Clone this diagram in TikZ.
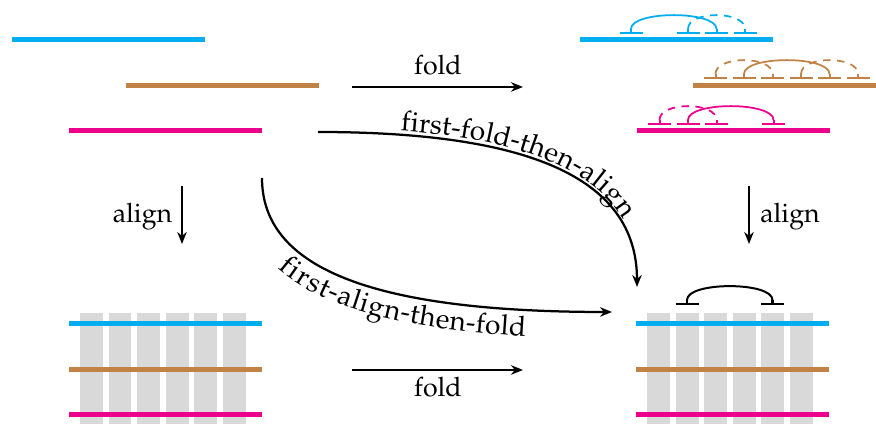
\documentclass[tikz,border=0pt]{standalone}
\usepackage[T1]{fontenc}
\usepackage{mathpazo}
\usetikzlibrary{arrows.meta,decorations.text}

\definecolor{seqcyan}{RGB}{0,174,239}
\definecolor{seqbrown}{RGB}{193,131,69}
\definecolor{seqmagenta}{RGB}{236,0,140}
\definecolor{colgray}{RGB}{217,217,217}

% column centre (local x) of alignment column #1
\newcommand\colx[1]{(22.5+28.5*(#1-1))}
% base-pair tick at column #1 (local coordinates, tick line at y=0)
\newcommand\bptick[2]{\draw[tick,#2] ({\colx{#1}-11.5},0) -- ({\colx{#1}+11.5},0) ({\colx{#1}},0) -- ({\colx{#1}},-4);}
% arc joining columns #1 and #2
\newcommand\bparc[3]{\draw[#3] ({\colx{#1}},-4) .. controls ({\colx{#1}},-22.5) and ({\colx{#2}},-22.5) .. ({\colx{#2}},-4);}

\begin{document}
\begin{tikzpicture}[x=0.4pt,y=-0.4pt,
  font=\fontsize{10.7}{13}\selectfont,
  seq/.style={line width=2pt},
  tick/.style={line width=0.8pt},
  bond/.style={line width=0.7pt},
  pseudo/.style={bond, dash pattern=on 3pt off 2.6pt},
  flow/.style={line width=0.9pt, -{Stealth[length=4.8pt,width=3.8pt]}},
  column/.style={fill=colgray, draw=none},
  lab/.style={anchor=base, inner sep=0pt},
  pathlab/.style={postaction={decorate}, decoration={text along path,
    text format delimiters={|}{|}, text={#1}}},
]
\useasboundingbox (0,0) rectangle (876,424);

% ---------- unaligned sequences (top left)
\draw[seq,seqcyan]    (12,40)  -- ++(193,0);
\draw[seq,seqbrown]   (126,86) -- ++(193,0);
\draw[seq,seqmagenta] (69,131) -- ++(193,0);

% ---------- folded sequences (top right)
\begin{scope}
\clip (0,0) rectangle (876,424);
\draw[seq,seqcyan]    (580,40)  -- ++(193,0);
\draw[seq,seqbrown]   (693,86)  -- ++(193,0);
\draw[seq,seqmagenta] (637,131) -- ++(193,0);
\end{scope}

\begin{scope}[shift={(580,33)}]
  \foreach \k in {2,4,5,6} {\bptick{\k}{seqcyan}}
  \bparc{2}{5}{bond,seqcyan}
  \bparc{4}{6}{pseudo,seqcyan}
\end{scope}
\begin{scope}[shift={(693,78)}]
  \foreach \k in {1,...,6} {\bptick{\k}{seqbrown}}
  \bparc{2}{5}{bond,seqbrown}
  \bparc{1}{3}{pseudo,seqbrown}
  \bparc{4}{6}{pseudo,seqbrown}
\end{scope}
\begin{scope}[shift={(637,124)}]
  \foreach \k in {1,2,3,5} {\bptick{\k}{seqmagenta}}
  \bparc{2}{5}{bond,seqmagenta}
  \bparc{1}{3}{pseudo,seqmagenta}
\end{scope}

% ---------- alignment (bottom left)
\foreach \k in {0,...,5}
  \fill[column] ({80+28.5*\k},313) rectangle ++(23,120);
\draw[seq,seqcyan]    (69,324) -- ++(193,0);
\draw[seq,seqbrown]   (69,370) -- ++(193,0);
\draw[seq,seqmagenta] (69,415) -- ++(193,0);

% ---------- consensus structure (bottom right)
\foreach \k in {0,...,5}
  \fill[column] ({647+28.5*\k},313) rectangle ++(23,120);
\draw[seq,seqcyan]    (636,324) -- ++(193,0);
\draw[seq,seqbrown]   (636,370) -- ++(193,0);
\draw[seq,seqmagenta] (636,415) -- ++(193,0);
\begin{scope}[shift={(636,304)}, tick/.append style={line width=1pt}]
  \bptick{2}{black}
  \bptick{5}{black}
  \bparc{2}{5}{line width=0.8pt,black}
\end{scope}

% ---------- arrow end points
\coordinate (foldT-s) at (352,87);
\coordinate (foldT-e) at (523,87);
\coordinate (foldB-s) at (352,370);
\coordinate (foldB-e) at (523,370);
\coordinate (alignL-s) at (182,186);
\coordinate (alignL-e) at (182,244);
\coordinate (alignR-s) at (749,186);
\coordinate (alignR-e) at (749,244);
\coordinate (ffta-s) at (318,132);
\coordinate (ffta-e) at (637,287);
\coordinate (fatf-s) at (262,178);
\coordinate (fatf-e) at (612,312);

% ---------- arrows and labels
\draw[flow] (foldT-s) -- (foldT-e);
\node[lab] (foldT) at (438,75) {fold};
\draw[flow] (foldB-s) -- (foldB-e);
\node[lab] (foldB) at (438,397) {fold};
\draw[flow] (alignL-s) -- (alignL-e);
\node[lab] (alignL) at (142.5,223) {align};
\draw[flow] (alignR-s) -- (alignR-e);
\node[lab] (alignR) at (790,223) {align};

\draw[flow, pathlab={|\fontsize{11.2}{14}\selectfont|first-fold-then-align},
    decoration={text align={left indent=33pt}, raise=1.5pt}]
  (ffta-s) .. controls (525,132) and (637,176) .. (ffta-e);
\draw[flow, pathlab={|\fontsize{11.2}{14}\selectfont|first-align-then-fold},
    decoration={text align={left indent=32pt}, raise=-10.5pt}]
  (fatf-s) .. controls (262,266) and (367,312) .. (fatf-e);
\end{tikzpicture}
\end{document}
